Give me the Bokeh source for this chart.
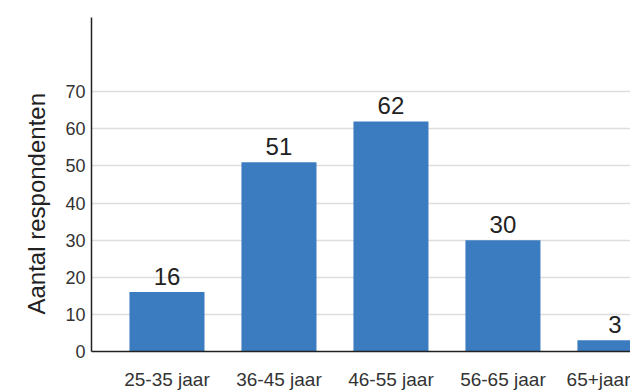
from bokeh.plotting import figure
from bokeh.models import ColumnDataSource, FixedTicker, Range1d, Title
from bokeh.core.properties import value
from bokeh.embed import file_html
from bokeh.resources import INLINE

categories = ["25-35 jaar", "36-45 jaar", "46-55 jaar", "56-65 jaar", "65+jaar"]
counts = [16, 51, 62, 30, 3]
y_ticks = [0, 10, 20, 30, 40, 50, 60, 70]
y_label = "Aantal respondenten"

FONT = "Liberation Sans"
positions = list(range(len(categories)))

src = ColumnDataSource(dict(x=positions, y=counts, lab=[str(c) for c in counts]))

p = figure(width=630, height=392, output_backend="svg", toolbar_location=None,
           x_range=Range1d(-0.674, 4.139), y_range=Range1d(0, 90),
           min_border_left=91, min_border_right=0, min_border_top=17, min_border_bottom=40)
p.outline_line_color = None
p.background_fill_color = "white"
p.border_fill_color = "white"

p.vbar(x="x", top="y", width=0.67, source=src, fill_color="#3b7cc0", line_color=None)
p.text(x="x", y="y", text="lab", source=src, text_align="center", text_baseline="bottom",
       y_offset=-7, text_font_size="24px", text_color="#222222", text_font=value(FONT))

# x axis
xa = p.xaxis[0]
xa.ticker = FixedTicker(ticks=positions)
xa.major_label_overrides = {i: c for i, c in zip(positions, categories)}
xa.major_tick_line_color = None
xa.minor_tick_line_color = None
xa.major_tick_out = 0
xa.minor_tick_out = 0
xa.axis_label_standoff = 0
xa.major_label_standoff = 17
xa.major_label_text_font_size = "19px"
xa.major_label_text_font = FONT
xa.major_label_text_color = "#333333"
xa.axis_line_color = "#222222"
xa.axis_line_width = 1.5

# y axis
ya = p.yaxis[0]
ya.ticker = FixedTicker(ticks=y_ticks)
ya.major_tick_line_color = None
ya.minor_tick_line_color = None
ya.major_tick_out = 0
ya.minor_tick_out = 0
ya.axis_label_standoff = 0
ya.major_label_standoff = 6
ya.major_label_text_font_size = "18px"
ya.major_label_text_font = FONT
ya.major_label_text_color = "#333333"
ya.axis_line_color = "#222222"
ya.axis_line_width = 1.5

p.add_layout(Title(text=y_label, align="left", offset=37, standoff=26,
                   text_font=FONT, text_font_size="24px", text_font_style="normal",
                   text_color="#222222"), "left")

p.xgrid.grid_line_color = None
p.ygrid.ticker = FixedTicker(ticks=y_ticks[1:])
p.ygrid.grid_line_color = "#dddddd"
p.ygrid.grid_line_width = 1.5

open("out.html", "w").write(file_html(p, INLINE))
